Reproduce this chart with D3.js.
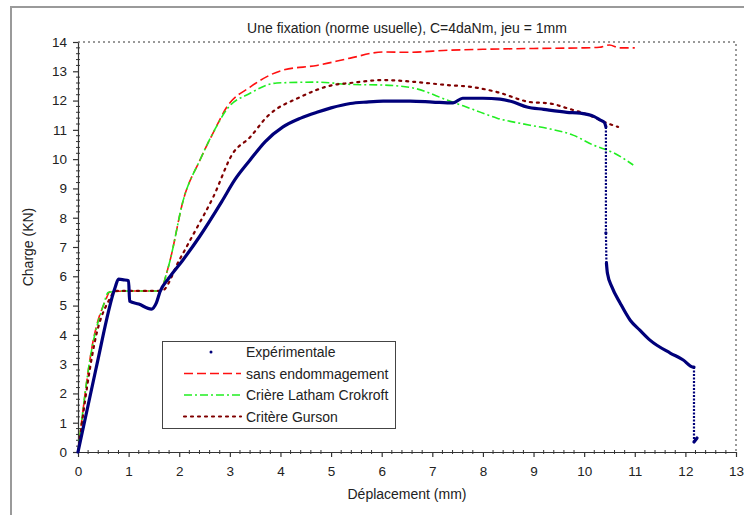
<!DOCTYPE html>
<html><head><meta charset="utf-8">
<script src="https://cdn.jsdelivr.net/npm/d3@7"></script>
<style>body{margin:0;background:#fff}svg{display:block;font-family:"Liberation Sans",Arial,sans-serif}</style>
</head><body><svg id="c" width="744" height="515"></svg>
<script>
const title = "Une fixation (norme usuelle), C=4daNm, jeu = 1mm";
const xLabel = "Déplacement (mm)";
const yLabel = "Charge (KN)";
const xTicks = [0,1,2,3,4,5,6,7,8,9,10,11,12,13];
const yTicks = [0,1,2,3,4,5,6,7,8,9,10,11,12,13,14];
const seriesNames = ["Expérimentale","sans endommagement","Crière Latham Crokroft","Critère Gurson"];

const expX = [0,0.35,0.73,0.8,0.9,1.0,1.02,1.2,1.45,1.55,1.62,1.8,2.07,2.4,2.84,3.1,3.4,3.7,4.05,4.4,4.72,5.0,5.38,5.7,6.03,6.56,7.0,7.41,7.6,8.0,8.34,8.6,8.87,9.2,9.66,9.92,10.2,10.32,10.4,10.43,10.43,10.44,10.46,10.55,10.71,10.91,11.1,11.3,11.7,11.95,12.15,12.17,12.17,12.23];
const expY = [0,2.8,5.6,5.9,5.88,5.85,5.15,5.05,4.88,5.1,5.47,5.95,6.55,7.35,8.55,9.3,9.97,10.6,11.1,11.4,11.6,11.75,11.9,11.95,11.98,11.98,11.95,11.92,12.08,12.08,12.05,11.95,11.78,11.7,11.6,11.57,11.45,11.33,11.25,11.1,7.48,6.45,6.1,5.63,5.09,4.5,4.16,3.82,3.38,3.15,2.9,2.9,0.34,0.48];

const redX = [0,0.3,0.55,0.63,1.0,1.62,1.75,1.82,2.08,2.41,2.7,2.94,3.4,4.05,4.72,5.38,6.03,6.5,7.35,8.0,9.0,10.0,10.3,10.5,10.7,11.0];
const redY = [0,3.8,5.2,5.47,5.5,5.5,6.1,6.55,8.6,9.97,11.0,11.78,12.46,13.04,13.2,13.45,13.66,13.65,13.72,13.75,13.78,13.8,13.82,13.9,13.8,13.8];

const greenX = [0,0.25,0.5,0.6,1.0,1.62,1.75,1.82,2.08,2.41,2.7,2.94,3.4,3.93,4.72,5.4,6.03,6.62,7.29,7.8,8.28,8.93,9.33,9.78,10.18,10.6,10.97];
const greenY = [0,3.3,5.0,5.45,5.5,5.5,6.1,6.55,8.6,9.97,11.0,11.7,12.25,12.6,12.63,12.55,12.53,12.43,12.02,11.7,11.4,11.16,11.03,10.82,10.48,10.2,9.8];

const brownX = [0,0.37,0.65,0.72,1.0,1.65,2.0,2.3,2.67,3.06,3.4,3.73,4.39,5.04,5.38,6.03,6.7,7.29,7.8,8.28,8.93,9.33,9.66,10.1,10.45,10.67];
const brownY = [0,4.06,5.3,5.5,5.5,5.5,6.55,7.5,8.7,10.2,10.75,11.44,12.12,12.53,12.6,12.7,12.63,12.53,12.46,12.29,11.95,11.9,11.74,11.5,11.23,11.1];

const svg = d3.select("#c");
const x = d3.scaleLinear().domain([0,13]).range([78,736]);
const y = d3.scaleLinear().domain([0,14]).range([452,42]);

// outer frame
svg.append("path").attr("d","M11,515 L11,7 L744,7").attr("fill","none").attr("stroke","#9a9a9a").attr("stroke-width",2);

// plot area dotted border
svg.append("path").attr("d",`M${x(0)},${y(14)} L${x(13)},${y(14)} L${x(13)},${y(0)}`)
  .attr("fill","none").attr("stroke","#999").attr("stroke-width",2).attr("stroke-dasharray","2,3");

// minor ticks
const g = svg.append("g");
const minorX = d3.range(0,13.001,0.2).filter(v=>Math.abs(v-Math.round(v))>1e-6);
g.selectAll(".mx").data(minorX).join("line").attr("x1",d=>x(d)).attr("x2",d=>x(d))
  .attr("y1",y(0)-2).attr("y2",y(0)+2).attr("stroke","#333").attr("stroke-width",1);
const minorY = d3.range(0,14.001,0.2).filter(v=>Math.abs(v-Math.round(v))>1e-6);
g.selectAll(".my").data(minorY).join("line").attr("y1",d=>y(d)).attr("y2",d=>y(d))
  .attr("x1",x(0)-2).attr("x2",x(0)+2).attr("stroke","#333").attr("stroke-width",1);

const xAxis = svg.append("g").attr("transform",`translate(0,${y(0)})`)
  .call(d3.axisBottom(x).tickValues(xTicks).tickSize(5).tickPadding(9).tickSizeOuter(0));
const yAxis = svg.append("g").attr("transform",`translate(${x(0)},0)`)
  .call(d3.axisLeft(y).tickValues(yTicks).tickSize(5).tickPadding(6).tickSizeOuter(0));
[xAxis,yAxis].forEach(a=>{
  a.selectAll("text").attr("font-size",13.5).attr("fill","#222").attr("font-family","Liberation Sans, Arial, sans-serif");
  a.selectAll("line,path").attr("stroke","#333").attr("stroke-width",1.2);
});

const line = d3.line().x(d=>x(d[0])).y(d=>y(d[1])).curve(d3.curveMonotoneX);
const straight = d3.line().x(d=>x(d[0])).y(d=>y(d[1]));
function pts(xs,ys){return xs.map((v,i)=>[v,ys[i]]);}

svg.append("path").datum(pts(redX,redY)).attr("d",line).attr("fill","none")
  .attr("stroke","#ff1010").attr("stroke-width",1.6).attr("stroke-dasharray","9,4");
svg.append("path").datum(pts(greenX,greenY)).attr("d",line).attr("fill","none")
  .attr("stroke","#22ee22").attr("stroke-width",1.6).attr("stroke-dasharray","8,3,2,3");
svg.append("path").datum(pts(brownX,brownY)).attr("d",line).attr("fill","none")
  .attr("stroke","#800000").attr("stroke-width",2.2).attr("stroke-dasharray","2,5").attr("stroke-linecap","round");

// experimental: split into smooth runs at the steep vertical drops
const ep = pts(expX,expY);
const isDrop = (a,b)=>Math.abs(b[0]-a[0])<0.02 && Math.abs(b[1]-a[1])>1;
const runs = []; let cur=[ep[0]];
const drops = [];
for(let i=1;i<ep.length;i++){
  if(isDrop(ep[i-1],ep[i])){ runs.push(cur); drops.push([ep[i-1],ep[i]]); cur=[ep[i]]; }
  else cur.push(ep[i]);
}
runs.push(cur);
svg.append("g").selectAll("path").data(runs).join("path")
  .attr("d",d=>line(d)).attr("fill","none").attr("stroke","#00007a")
  .attr("stroke-linecap","round").attr("stroke-linejoin","round").attr("stroke-width",3.2);
svg.append("g").selectAll("path").data(drops).join("path")
  .attr("d",d=>straight(d)).attr("fill","none").attr("stroke","#00007a")
  .attr("stroke-width",2.2).attr("stroke-dasharray","2,1.5");

// title and labels
svg.append("text").attr("x",407).attr("y",33).attr("text-anchor","middle").attr("font-size",14).attr("fill","#222").text(title);
svg.append("text").attr("x",407).attr("y",499).attr("text-anchor","middle").attr("font-size",14).attr("fill","#222").text(xLabel);
svg.append("text").attr("transform","translate(33,247) rotate(-90)").attr("text-anchor","middle").attr("font-size",14).attr("fill","#222").text(yLabel);

// legend
const lg = svg.append("g");
lg.append("rect").attr("x",162.5).attr("y",341.5).attr("width",233).attr("height",87).attr("fill","#fff").attr("stroke","#444").attr("stroke-width",1);
const styles = [
  {c:"#00007a"},
  {c:"#ff1010",w:1.6,da:"9,4"},
  {c:"#22ee22",w:1.6,da:"8,3,2,3"},
  {c:"#800000",w:2.2,da:"2,5"}
];
seriesNames.forEach((n,i)=>{
  const yy = 352+i*21.5;
  if(i===0){
    lg.append("circle").attr("cx",211).attr("cy",yy).attr("r",1.5).attr("fill","#00007a");
  } else {
    lg.append("line").attr("x1",184).attr("x2",241).attr("y1",yy).attr("y2",yy)
      .attr("stroke",styles[i].c).attr("stroke-width",styles[i].w).attr("stroke-dasharray",styles[i].da).attr("stroke-linecap",i===3?"round":null);
  }
  lg.append("text").attr("x",246).attr("y",yy+5).attr("font-size",14).attr("fill","#222").text(n);
});
</script></body></html>
